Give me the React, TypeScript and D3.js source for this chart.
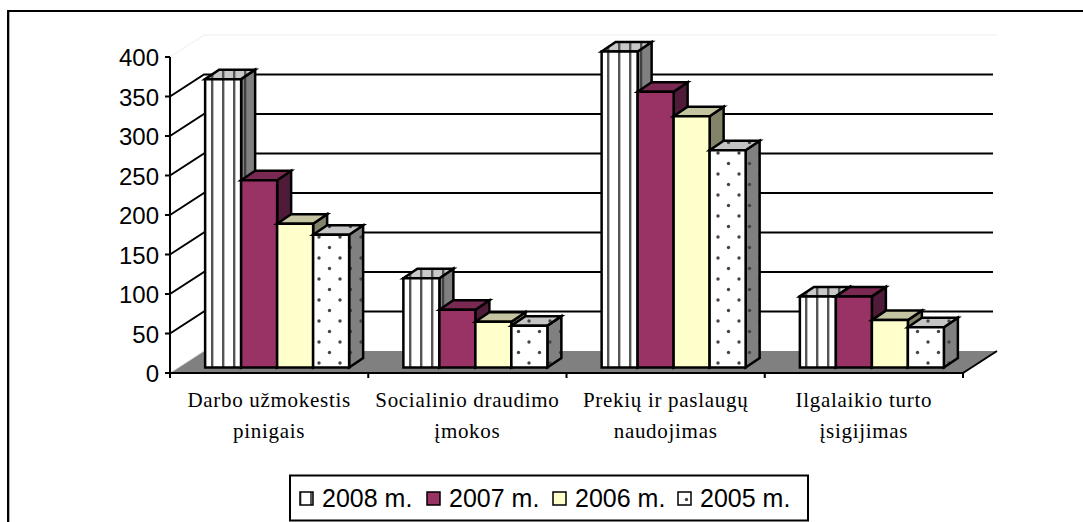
import React from "react";
import * as d3 from "d3";

const categories = [
  ["Darbo užmokestis", "pinigais"],
  ["Socialinio draudimo", "įmokos"],
  ["Prekių ir paslaugų", "naudojimas"],
  ["Ilgalaikio turto", "įsigijimas"],
];
const seriesNames = ["2008 m.", "2007 m.", "2006 m.", "2005 m."];
const values2008 = [365, 113, 400, 90];
const values2007 = [237, 73, 349, 90];
const values2006 = [182, 58, 318, 60];
const values2005 = [168, 53, 275, 51];
const allValues = [values2008, values2007, values2006, values2005];
const yTicks = [0, 50, 100, 150, 200, 250, 300, 350, 400];

const frontColors = ["url(#stripeF)", "#993366", "#ffffcc", "url(#dotF)"];
const topColors = ["url(#stripeT)", "#7a2952", "#c4c4a0", "url(#dotT)"];
const sideColors = ["url(#stripeS)", "#4f1b38", "#83836a", "url(#dotS)"];

const W = 1083, H = 522;
const axisY = d3.scaleLinear().domain([0, 400]).range([373, 57]);
const wallDx = 34, wallDy = -22;
const x0 = 170, x1 = 963;
const catScale = d3.scaleBand<number>().domain([0, 1, 2, 3]).range([x0, x1]);
const barDx = 14, barDy = -9.5, baseDx = 8, baseDy = -5.5;
const barH = (v: number) => axisY(v) + baseDy;
const groupW = 144;
const barX = (c: number, s: number) =>
  catScale(c)! + (catScale.bandwidth() - groupW) / 2 + baseDx + (s * groupW) / 4;
const bw = groupW / 4;
const poly = d3.line();
type P = [number, number];
const closed = (pts: P[]) => poly(pts) + "Z";

function Patterns() {
  const stripe = (id: string, bg: string, fg: string, light: string) => (
    <pattern id={id} patternUnits="userSpaceOnUse" x={205} y={0} width={11} height={4}>
      <rect width={11} height={4} fill={bg} />
      <rect x={6} width={2} height={4} fill={fg} />
      <rect x={8} width={1} height={4} fill={light} />
    </pattern>
  );
  const dot = (id: string, bg: string) => (
    <pattern id={id} patternUnits="userSpaceOnUse" x={20} y={1} width={21} height={21}>
      <rect width={21} height={21} fill={bg} />
      <circle cx={5} cy={5} r={1.7} fill="#444" />
      <circle cx={15.5} cy={15.5} r={1.7} fill="#444" />
    </pattern>
  );
  return (
    <defs>
      {stripe("stripeF", "#ffffff", "#555555", "#bbbbbb")}
      {stripe("stripeT", "#c8c8c8", "#555555", "#999999")}
      {stripe("stripeS", "#808080", "#404040", "#707070")}
      {dot("dotF", "#ffffff")}
      {dot("dotT", "#c4c4c4")}
      {dot("dotS", "#808080")}
    </defs>
  );
}

function Bar({ c, s }: { c: number; s: number }) {
  const x = barX(c, s);
  const y = barH(allValues[s][c]);
  const b = barH(0);
  const front: P[] = [[x, y], [x + bw, y], [x + bw, b], [x, b]];
  const top: P[] = [[x, y], [x + barDx, y + barDy], [x + bw + barDx, y + barDy], [x + bw, y]];
  const side: P[] = [[x + bw, y], [x + bw + barDx, y + barDy], [x + bw + barDx, b + barDy], [x + bw, b]];
  const st = { stroke: "#000", strokeWidth: 2.5, strokeLinejoin: "miter" as const };
  return (
    <g>
      <path d={closed(side)} fill={sideColors[s]} {...st} />
      <path d={closed(top)} fill={topColors[s]} {...st} />
      <path d={closed(front)} fill={frontColors[s]} {...st} />
    </g>
  );
}

const legendX = [300, 427, 553, 678];
const legendSwatchFill = ["url(#stripeF)", "#993366", "#ffffcc", "url(#dotF)"];

export default function App() {
  const floor: P[] = [[x0, axisY(0)], [x0 + wallDx, axisY(0) + wallDy], [x1 + wallDx, axisY(0) + wallDy], [x1, axisY(0)]];
  return (
    <svg width={W} height={H} style={{ position: "absolute", left: 0, top: 0, background: "#fff" }}>
      <Patterns />
      <path d="M9.5 522V12" fill="none" stroke="#b0b0b0" strokeWidth={1} />
      <path d="M8 522V11H1083" fill="none" stroke="#000" strokeWidth={2} />
      <path d={closed(floor)} fill="#808080" />
      <path d={`M${x0} ${axisY(400)}L${x0 + wallDx} ${axisY(400) + wallDy}H${x1 + wallDx}`} fill="none" stroke="#eeeeee" strokeWidth={1} />
      <path d={`M${x0} ${axisY(0)}L${x0 + wallDx} ${axisY(0) + wallDy}`} fill="none" stroke="#dddddd" strokeWidth={1} />
      {yTicks.slice(1, -1).map((t) => (
        <path key={t} d={`M${x0} ${axisY(t)}L${x0 + wallDx} ${axisY(t) + wallDy}H${x1 + wallDx - 4}`} fill="none" stroke="#000" strokeWidth={2} />
      ))}
      <path d={`M${x1} ${axisY(0)}L${x1 + wallDx} ${axisY(0) + wallDy}`} stroke="#000" strokeWidth={2} />
      {categories.map((_, c) => (
        <g key={c}>
          {[0, 1, 2, 3].map((s) => (
            <Bar key={s} c={c} s={s} />
          ))}
        </g>
      ))}
      <path d={`M${x0} ${axisY(400)}V${axisY(0)}H${x1}`} fill="none" stroke="#000" strokeWidth={2} />
      {yTicks.map((t) => (
        <g key={t}>
          <line x1={x0 - 5} x2={x0} y1={axisY(t)} y2={axisY(t)} stroke="#000" strokeWidth={2} />
          <text x={x0 - 11} y={axisY(t) + 9} textAnchor="end" fontFamily="'Liberation Sans'" fontSize={24}>{t}</text>
        </g>
      ))}
      {[0, 1, 2, 3, 4].map((i) => {
        const tx = i < 4 ? catScale(i)! : x1;
        return <line key={i} x1={tx} x2={tx} y1={373} y2={378} stroke="#000" strokeWidth={2} />;
      })}
      {categories.map((lines, c) => (
        <text key={c} textAnchor="middle" fontFamily="'Liberation Serif'" fontSize={21} letterSpacing={0.7}>
          {lines.map((l, i) => (
            <tspan key={i} x={catScale(c)! + catScale.bandwidth() / 2} y={407 + i * 30.5}>{l}</tspan>
          ))}
        </text>
      ))}
      <rect x={290} y={475.5} width={518} height={45} fill="#fff" stroke="#000" strokeWidth={2} />
      {seriesNames.map((n, i) => (
        <g key={n}>
          <rect x={legendX[i]} y={492} width={13} height={13} fill={legendSwatchFill[i]} stroke="#000" strokeWidth={1.5} />
          <text x={legendX[i] + 22} y={507} fontFamily="'Liberation Sans'" fontSize={25}>{n}</text>
        </g>
      ))}
    </svg>
  );
}
